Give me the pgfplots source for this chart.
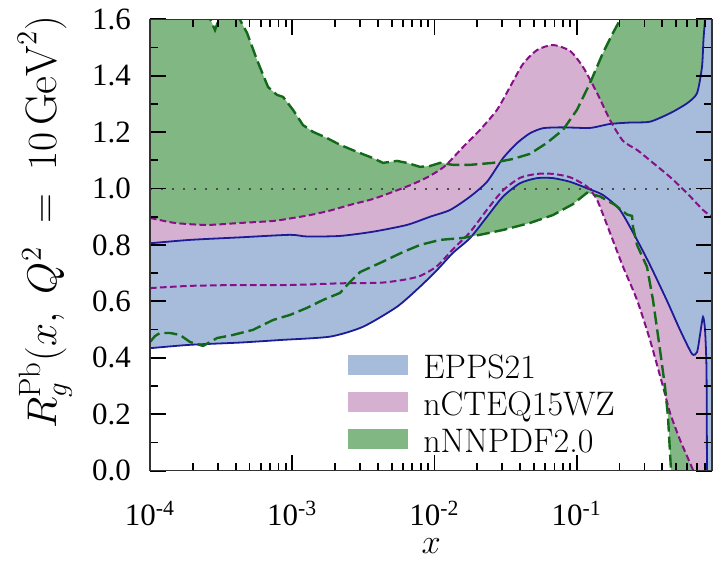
\documentclass[border=0pt]{standalone}
\usepackage{pgfplots}
\pgfplotsset{compat=1.18}
\usepgfplotslibrary{fillbetween}
\usepackage{fontspec}
\newfontfamily\tickfont{Liberation Serif}
\definecolor{eppsfill}{RGB}{167,188,219}
\definecolor{eppsline}{RGB}{28,28,150}
\definecolor{ncfill}{RGB}{214,176,208}
\definecolor{ncline}{RGB}{135,15,135}
\definecolor{nnfill}{RGB}{128,183,130}
\definecolor{nnline}{RGB}{18,105,25}
\begin{document}
\begin{tikzpicture}
\begin{axis}[
  scale only axis,
  width=281.2pt, height=225.7pt,
  xmode=log,
  xmin=1e-4, xmax=0.9,
  ymin=0, ymax=1.6,
  axis on top,
  axis line style={black!80, line width=0.8pt},
  xtick pos=both, ytick pos=both, tick align=inside,
  major tick length=8pt, minor tick length=4pt,
  major tick style={draw=black, line width=0.9pt},
  minor tick style={draw=black, line width=0.9pt},
  xtick={1e-4,1e-3,1e-2,1e-1},
  xticklabels={10\textsuperscript{-4},10\textsuperscript{-3},10\textsuperscript{-2},10\textsuperscript{-1}},
  minor xtick={2e-4,3e-4,4e-4,5e-4,6e-4,7e-4,8e-4,9e-4,2e-3,3e-3,4e-3,5e-3,6e-3,7e-3,8e-3,9e-3,2e-2,3e-2,4e-2,5e-2,6e-2,7e-2,8e-2,9e-2,0.2,0.3,0.4,0.5,0.6,0.7,0.8},
  ytick={0,0.2,0.4,0.6,0.8,1.0,1.2,1.4,1.6},
  minor ytick={0.1,0.3,0.5,0.7,0.9,1.1,1.3,1.5},
  tick label style={font=\fontsize{15.5}{17}\selectfont\tickfont},
  xticklabel style={inner sep=1pt, yshift=-14pt},
  yticklabel style={xshift=-6pt, /pgf/number format/fixed, /pgf/number format/fixed zerofill, /pgf/number format/precision=1, /pgf/number format/assume math mode=true},
  ylabel={$R_g^{\mathrm{Pb}}(x,\; Q^2 \;=\; 10\,\mathrm{GeV}^2)$},
  ylabel style={font=\fontsize{22}{24}\selectfont, at={(rel axis cs:-0.187,0.55)}, anchor=center, rotate=0},
  xlabel={$x$},
  xlabel style={font=\fontsize{18.5}{20}\selectfont, at={(rel axis cs:0.5,-0.168)}, anchor=center, inner sep=0pt},
  legend image code/.code={\fill[#1] (0pt,-3.5pt) rectangle (30pt,6.5pt);},
  legend cell align=left,
  legend style={draw=none, fill=none, at={(rel axis cs:0.352,0.267)}, anchor=north west,
    inner sep=0pt, row sep=1.3pt, font=\fontsize{17}{19}\selectfont},
]
\addlegendimage{fill=eppsfill, draw=none}
\addlegendimage{fill=ncfill, draw=none}
\addlegendimage{fill=nnfill, draw=none}
\legend{\hspace*{5.5pt}EPPS21, \hspace*{5.5pt}nCTEQ15WZ, \hspace*{5.5pt}nNNPDF2.0}

% nNNPDF2.0 upper
\addplot[name path=gU, draw=none, forget plot] table[row sep=\\]{
x y\\
1e-4 1.7\\ 2.4e-4 1.7\\ 2.55e-4 1.62\\ 2.865e-4 1.562\\ 3.15e-4 1.62\\ 3.3e-4 1.7\\ 3.9e-4 1.68\\
4.295e-4 1.598\\ 4.81e-4 1.552\\ 5.655e-4 1.456\\ 6.76e-4 1.360\\ 7.82e-4 1.332\\ 8.62e-4 1.325\\
1.013e-3 1.279\\ 1.191e-3 1.225\\ 1.401e-3 1.201\\ 1.757e-3 1.179\\ 2.17e-3 1.155\\ 2.856e-3 1.130\\
3.70e-3 1.108\\ 4.35e-3 1.091\\ 5.46e-3 1.098\\ 6.41e-3 1.091\\ 7.92e-3 1.077\\ 9.31e-3 1.080\\
1.095e-2 1.091\\ 1.351e-2 1.084\\ 1.778e-2 1.084\\ 2.583e-2 1.091\\ 3.57e-2 1.105\\ 4.70e-2 1.123\\
6.19e-2 1.162\\ 8.02e-2 1.208\\ 0.1006 1.279\\ 0.1242 1.374\\ 0.1533 1.481\\ 0.1803 1.552\\
0.2019 1.598\\ 0.2262 1.669\\ 0.9 1.7\\
};
% nNNPDF2.0 lower
\addplot[name path=gL, draw=none, forget plot] table[row sep=\\]{
x y\\
1e-4 0.456\\ 1.084e-4 0.477\\ 1.176e-4 0.488\\ 1.382e-4 0.488\\ 1.625e-4 0.481\\ 1.911e-4 0.456\\
2.36e-4 0.442\\ 2.96e-4 0.470\\ 3.83e-4 0.481\\ 5.30e-4 0.499\\ 7.33e-4 0.534\\ 9.65e-4 0.552\\
1.271e-3 0.577\\ 1.647e-3 0.605\\ 2.17e-3 0.630\\ 2.55e-3 0.669\\ 3.0e-3 0.704\\ 4.14e-3 0.736\\
6.02e-3 0.775\\ 7.92e-3 0.800\\ 1.095e-2 0.818\\ 1.589e-2 0.825\\ 2.093e-2 0.836\\ 3.03e-2 0.853\\
4.70e-2 0.878\\ 6.82e-2 0.906\\ 9.44e-2 0.945\\ 0.1183 0.985\\ 0.1461 0.972\\ 0.1862 0.942\\
0.2262 0.908\\ 0.2453 0.903\\ 0.2493 0.864\\ 0.266 0.800\\ 0.3127 0.722\\ 0.3445 0.605\\
0.386 0.428\\ 0.4185 0.297\\ 0.4393 0.190\\ 0.4612 0.0\\ 0.4764 -0.1\\ 0.9 -0.3\\
};
% nCTEQ15WZ upper
\addplot[name path=pU, draw=none, smooth, tension=0.4, forget plot] table[row sep=\\]{
x y\\
1e-4 0.896\\ 1.499e-4 0.878\\ 2.516e-4 0.871\\ 4.295e-4 0.878\\ 7.33e-4 0.885\\ 9.65e-4 0.894\\
1.334e-3 0.906\\ 1.845e-3 0.922\\ 2.55e-3 0.942\\ 3.70e-3 0.963\\ 5.28e-3 0.991\\ 7.07e-3 1.016\\
9.31e-3 1.045\\ 1.187e-2 1.080\\ 1.589e-2 1.147\\ 2.093e-2 1.208\\ 2.755e-2 1.279\\ 3.40e-2 1.360\\
4.20e-2 1.442\\ 5.27e-2 1.491\\ 6.82e-2 1.509\\ 8.99e-2 1.488\\ 0.1109 1.431\\ 0.1392 1.339\\
0.1718 1.243\\ 0.212 1.169\\ 0.266 1.137\\ 0.3445 1.091\\ 0.4539 1.041\\ 0.597 0.984\\
0.7744 0.924\\ 0.9 0.899\\
};
% nCTEQ15WZ lower
\addplot[name path=pL, draw=none, smooth, tension=0.4, forget plot] table[row sep=\\]{
x y\\
1e-4 0.647\\ 1.911e-4 0.655\\ 4.295e-4 0.658\\ 9.65e-4 0.658\\ 2.17e-3 0.664\\ 4.14e-3 0.666\\
6.0e-3 0.676\\ 7.92e-3 0.690\\ 1.043e-2 0.725\\ 1.351e-2 0.785\\ 1.778e-2 0.845\\ 2.344e-2 0.925\\
3.03e-2 0.993\\ 4.0e-2 1.038\\ 5.27e-2 1.052\\ 6.82e-2 1.052\\ 8.99e-2 1.040\\ 0.1183 1.007\\
0.1392 0.960\\ 0.1718 0.843\\ 0.212 0.723\\ 0.266 0.605\\ 0.3282 0.463\\ 0.4051 0.298\\
0.4539 0.205\\ 0.5335 0.109\\ 0.6585 0.002\\ 0.7377 -0.07\\ 0.9 -0.2\\
};
% EPPS21 upper
\addplot[name path=bU, draw=none, smooth, tension=0.4, forget plot] table[row sep=\\]{
x y\\
1e-4 0.806\\ 1.911e-4 0.818\\ 4.295e-4 0.827\\ 9.65e-4 0.836\\ 1.27e-3 0.830\\ 2.17e-3 0.832\\
3.70e-3 0.847\\ 6.41e-3 0.871\\ 9.31e-3 0.900\\ 1.288e-2 0.924\\ 1.778e-2 0.971\\ 2.344e-2 1.024\\
3.03e-2 1.107\\ 3.81e-2 1.161\\ 4.70e-2 1.196\\ 5.81e-2 1.214\\ 8.02e-2 1.217\\ 0.1242 1.215\\
0.1718 1.229\\ 0.2377 1.234\\ 0.3281 1.237\\ 0.4539 1.267\\ 0.597 1.302\\ 0.703 1.338\\
0.762 1.432\\ 0.780 1.527\\ 0.800 1.600\\ 0.813 1.67\\ 0.9 1.7\\
};
% EPPS21 lower
\addplot[name path=bL, draw=none, smooth, tension=0.4, forget plot] table[row sep=\\]{
x y\\
1e-4 0.434\\ 1.911e-4 0.446\\ 4.295e-4 0.454\\ 8.21e-4 0.463\\ 1.845e-3 0.475\\ 3.147e-3 0.510\\
5.46e-3 0.581\\ 7.92e-3 0.652\\ 1.043e-2 0.711\\ 1.351e-2 0.772\\ 1.778e-2 0.824\\ 2.344e-2 0.900\\
3.03e-2 0.971\\ 4.0e-2 1.019\\ 5.27e-2 1.037\\ 6.82e-2 1.037\\ 8.99e-2 1.024\\ 0.1183 1.001\\
0.1533 0.977\\ 0.2019 0.924\\ 0.266 0.818\\ 0.3282 0.729\\ 0.4323 0.602\\ 0.5335 0.499\\
0.6478 0.414\\ 0.703 0.420\\ 0.7377 0.481\\ 0.7744 0.545\\ 0.800 0.499\\ 0.8195 0.357\\
0.826 0.0\\ 0.8327 -0.1\\ 0.9 -0.1\\
};

\addplot[nnfill, forget plot] fill between[of=gU and gL];
\addplot[ncfill, forget plot] fill between[of=pU and pL];
\addplot[eppsfill, forget plot] fill between[of=bU and bL];

\addplot[black!70, line width=1pt, dash pattern=on 1.2pt off 4.3pt, forget plot] coordinates {(1e-4,1) (0.9,1)};

\addplot[eppsline, line width=0.9pt, smooth, tension=0.4, forget plot] table[row sep=\\]{
x y\\
1e-4 0.806\\ 1.911e-4 0.818\\ 4.295e-4 0.827\\ 9.65e-4 0.836\\ 1.27e-3 0.830\\ 2.17e-3 0.832\\
3.70e-3 0.847\\ 6.41e-3 0.871\\ 9.31e-3 0.900\\ 1.288e-2 0.924\\ 1.778e-2 0.971\\ 2.344e-2 1.024\\
3.03e-2 1.107\\ 3.81e-2 1.161\\ 4.70e-2 1.196\\ 5.81e-2 1.214\\ 8.02e-2 1.217\\ 0.1242 1.215\\
0.1718 1.229\\ 0.2377 1.234\\ 0.3281 1.237\\ 0.4539 1.267\\ 0.597 1.302\\ 0.703 1.338\\
0.762 1.432\\ 0.780 1.527\\ 0.800 1.600\\ 0.813 1.67\\
};
\addplot[eppsline, line width=0.9pt, smooth, tension=0.4, forget plot] table[row sep=\\]{
x y\\
1e-4 0.434\\ 1.911e-4 0.446\\ 4.295e-4 0.454\\ 8.21e-4 0.463\\ 1.845e-3 0.475\\ 3.147e-3 0.510\\
5.46e-3 0.581\\ 7.92e-3 0.652\\ 1.043e-2 0.711\\ 1.351e-2 0.772\\ 1.778e-2 0.824\\ 2.344e-2 0.900\\
3.03e-2 0.971\\ 4.0e-2 1.019\\ 5.27e-2 1.037\\ 6.82e-2 1.037\\ 8.99e-2 1.024\\ 0.1183 1.001\\
0.1533 0.977\\ 0.2019 0.924\\ 0.266 0.818\\ 0.3282 0.729\\ 0.4323 0.602\\ 0.5335 0.499\\
0.6478 0.414\\ 0.703 0.420\\ 0.7377 0.481\\ 0.7744 0.545\\ 0.800 0.499\\ 0.8195 0.357\\
0.826 0.0\\ 0.8327 -0.1\\
};
\addplot[ncline, line width=1pt, dash pattern=on 3.3pt off 1.7pt, smooth, tension=0.4, forget plot] table[row sep=\\]{
x y\\
1e-4 0.896\\ 1.499e-4 0.878\\ 2.516e-4 0.871\\ 4.295e-4 0.878\\ 7.33e-4 0.885\\ 9.65e-4 0.894\\
1.334e-3 0.906\\ 1.845e-3 0.922\\ 2.55e-3 0.942\\ 3.70e-3 0.963\\ 5.28e-3 0.991\\ 7.07e-3 1.016\\
9.31e-3 1.045\\ 1.187e-2 1.080\\ 1.589e-2 1.147\\ 2.093e-2 1.208\\ 2.755e-2 1.279\\ 3.40e-2 1.360\\
4.20e-2 1.442\\ 5.27e-2 1.491\\ 6.82e-2 1.509\\ 8.99e-2 1.488\\ 0.1109 1.431\\ 0.1392 1.339\\
0.1718 1.243\\ 0.212 1.169\\ 0.266 1.137\\ 0.3445 1.091\\ 0.4539 1.041\\ 0.597 0.984\\
0.7744 0.924\\ 0.9 0.899\\
};
\addplot[ncline, line width=1pt, dash pattern=on 3.3pt off 1.7pt, smooth, tension=0.4, forget plot] table[row sep=\\]{
x y\\
1e-4 0.647\\ 1.911e-4 0.655\\ 4.295e-4 0.658\\ 9.65e-4 0.658\\ 2.17e-3 0.664\\ 4.14e-3 0.666\\
6.0e-3 0.676\\ 7.92e-3 0.690\\ 1.043e-2 0.725\\ 1.351e-2 0.785\\ 1.778e-2 0.845\\ 2.344e-2 0.925\\
3.03e-2 0.993\\ 4.0e-2 1.038\\ 5.27e-2 1.052\\ 6.82e-2 1.052\\ 8.99e-2 1.040\\ 0.1183 1.007\\
0.1392 0.960\\ 0.1718 0.843\\ 0.212 0.723\\ 0.266 0.605\\ 0.3282 0.463\\ 0.4051 0.298\\
0.4539 0.205\\ 0.5335 0.109\\ 0.6585 0.002\\ 0.7377 -0.07\\
};
\addplot[nnline, line width=1.2pt, dash pattern=on 6.5pt off 2.5pt, forget plot] table[row sep=\\]{
x y\\
1e-4 1.7\\ 2.4e-4 1.7\\ 2.55e-4 1.62\\ 2.865e-4 1.562\\ 3.15e-4 1.62\\ 3.3e-4 1.7\\ 3.9e-4 1.68\\
4.295e-4 1.598\\ 4.81e-4 1.552\\ 5.655e-4 1.456\\ 6.76e-4 1.360\\ 7.82e-4 1.332\\ 8.62e-4 1.325\\
1.013e-3 1.279\\ 1.191e-3 1.225\\ 1.401e-3 1.201\\ 1.757e-3 1.179\\ 2.17e-3 1.155\\ 2.856e-3 1.130\\
3.70e-3 1.108\\ 4.35e-3 1.091\\ 5.46e-3 1.098\\ 6.41e-3 1.091\\ 7.92e-3 1.077\\ 9.31e-3 1.080\\
1.095e-2 1.091\\ 1.351e-2 1.084\\ 1.778e-2 1.084\\ 2.583e-2 1.091\\ 3.57e-2 1.105\\ 4.70e-2 1.123\\
6.19e-2 1.162\\ 8.02e-2 1.208\\ 0.1006 1.279\\ 0.1242 1.374\\ 0.1533 1.481\\ 0.1803 1.552\\
0.2019 1.598\\ 0.2262 1.669\\
};
\addplot[nnline, line width=1.2pt, dash pattern=on 6.5pt off 2.5pt, forget plot] table[row sep=\\]{
x y\\
1e-4 0.456\\ 1.084e-4 0.477\\ 1.176e-4 0.488\\ 1.382e-4 0.488\\ 1.625e-4 0.481\\ 1.911e-4 0.456\\
2.36e-4 0.442\\ 2.96e-4 0.470\\ 3.83e-4 0.481\\ 5.30e-4 0.499\\ 7.33e-4 0.534\\ 9.65e-4 0.552\\
1.271e-3 0.577\\ 1.647e-3 0.605\\ 2.17e-3 0.630\\ 2.55e-3 0.669\\ 3.0e-3 0.704\\ 4.14e-3 0.736\\
6.02e-3 0.775\\ 7.92e-3 0.800\\ 1.095e-2 0.818\\ 1.589e-2 0.825\\ 2.093e-2 0.836\\ 3.03e-2 0.853\\
4.70e-2 0.878\\ 6.82e-2 0.906\\ 9.44e-2 0.945\\ 0.1183 0.985\\ 0.1461 0.972\\ 0.1862 0.942\\
0.2262 0.908\\ 0.2453 0.903\\ 0.2493 0.864\\ 0.266 0.800\\ 0.3127 0.722\\ 0.3445 0.605\\
0.386 0.428\\ 0.4185 0.297\\ 0.4393 0.190\\ 0.4612 0.0\\ 0.4764 -0.1\\
};
\coordinate (bbl) at (rel axis cs:-0.2668,-0.2000);
\coordinate (btr) at (rel axis cs:1.0137,1.0428);
\end{axis}
\pgfresetboundingbox
\path[use as bounding box] (bbl) rectangle (btr);
\end{tikzpicture}
\end{document}
